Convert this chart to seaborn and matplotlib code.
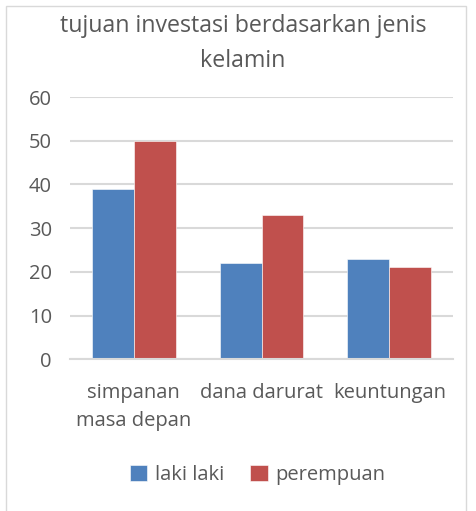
import pandas as pd
import matplotlib.pyplot as plt
import seaborn as sns
from matplotlib.patches import Rectangle

categories = ['simpanan\nmasa depan', 'dana darurat', 'keuntungan']
laki_laki = [39, 22, 23]
perempuan = [50, 33, 21]
series = ['laki laki', 'perempuan']
colors = ['#4F81BD', '#C0504D']

df = pd.DataFrame({
    'kategori': categories * 2,
    'nilai': laki_laki + perempuan,
    'jenis': [series[0]] * 3 + [series[1]] * 3,
})

sns.set_style('white')
plt.rcParams['font.family'] = ['Open Sans', 'DejaVu Sans']
txt = '#595959'

fig = plt.figure(figsize=(4.76, 5.11), dpi=100)
ax = fig.add_axes([0.147, 0.297, 0.805, 0.513])

sns.barplot(data=df, x='kategori', y='nilai', hue='jenis', palette=colors,
            saturation=1, width=0.656, gap=0, edgecolor='white', linewidth=0.4, ax=ax)

ax.set_ylim(0, 60)
ax.set_xlim(-0.5, 2.5)
ax.set_yticks(range(0, 61, 10))
ax.yaxis.grid(True, color='#D9D9D9', linewidth=1.5)
ax.set_axisbelow(True)
for s in ['top', 'right', 'left']:
    ax.spines[s].set_visible(False)
ax.spines['bottom'].set_color('#D9D9D9')
ax.spines['bottom'].set_linewidth(1.5)
ax.tick_params(axis='both', length=0, labelsize=14.5, colors=txt)
ax.tick_params(axis='y', pad=13)
ax.tick_params(axis='x', pad=17)
for lbl in ax.get_xticklabels():
    lbl.set_linespacing(1.55)
ax.set_xlabel('')
ax.set_ylabel('')

fig.text(0.51, 0.915, 'tujuan investasi berdasarkan jenis\nkelamin', ha='center', va='center',
         fontsize=16.7, color=txt, linespacing=1.62)

ax.legend(loc='center', bbox_to_anchor=(0.49, -0.44), ncol=2, frameon=False,
          fontsize=14.5, labelcolor=txt, handlelength=0.85, handleheight=0.85,
          handletextpad=0.4, columnspacing=1.3)

fig.patches.append(Rectangle((6 / 476, -0.01), (466 - 6) / 476, 1 - 6 / 511 + 0.01,
                             transform=fig.transFigure, fill=False,
                             edgecolor='#D9D9D9', linewidth=1))

fig.savefig('out.png', dpi=100)
